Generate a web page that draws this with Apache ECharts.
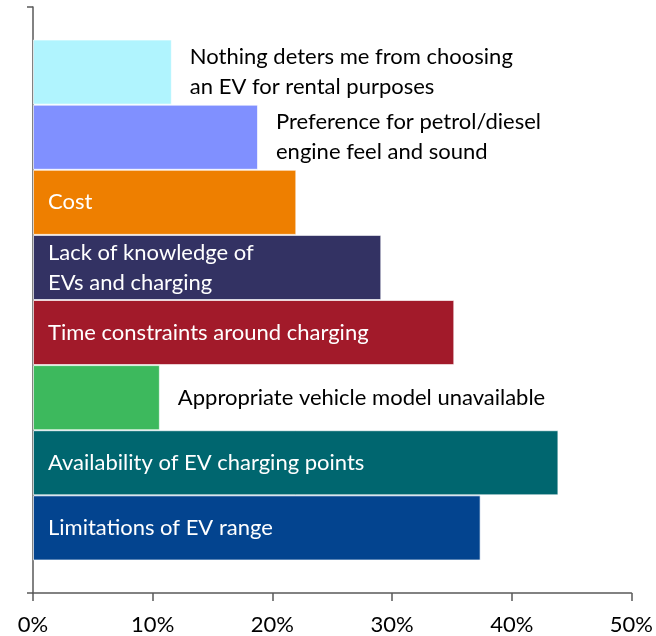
<!DOCTYPE html>
<html>
<head>
<meta charset="utf-8">
<script src="https://cdn.jsdelivr.net/npm/echarts@6/dist/echarts.min.js"></script>
<style>
  html, body { margin: 0; padding: 0; background: #fff; }
  #chart { width: 656px; height: 636px; }
</style>
</head>
<body>
<div id="chart"></div>
<script>
// Barriers to choosing an EV for rental, share of respondents (%), listed top to bottom
const reasons = [
  'Nothing deters me from choosing\nan EV for rental purposes',
  'Preference for petrol/diesel\nengine feel and sound',
  'Cost',
  'Lack of knowledge of\nEVs and charging',
  'Time constraints around charging',
  'Appropriate vehicle model unavailable',
  'Availability of EV charging points',
  'Limitations of EV range'
];
const shares = [11.6, 18.8, 22.0, 29.1, 35.2, 10.6, 43.9, 37.4];
const barColors = ['#B0F4FE', '#8090FF', '#EE7F00', '#333263', '#A21A2A', '#3DB95D', '#00666F', '#03448F'];
const xTicks = { min: 0, max: 50, step: 10 };

const FONT = 'Lato';

const chart = echarts.init(document.getElementById('chart'), null, { renderer: 'canvas' });

// One category band holding one bar per reason; short bars carry their label outside
const series = reasons.map((name, i) => {
  const outside = shares[i] < 20;
  return {
    name: name,
    type: 'bar',
    data: [shares[i]],
    barGap: '0%',
    barCategoryGap: '11.1%',
    itemStyle: {
      color: barColors[i],
      borderColor: 'rgba(255,255,255,0.65)',
      borderWidth: 1
    },
    label: {
      show: true,
      formatter: () => name,
      position: outside ? 'right' : 'insideLeft',
      distance: outside ? 18 : 15,
      color: outside ? '#000' : '#fff',
      fontFamily: FONT,
      fontSize: 22,
      lineHeight: 30,
      align: 'left'
    },
    silent: true,
    animation: false
  };
});

chart.setOption({
  animation: false,
  grid: { left: 33, right: 20, top: 7, bottom: 42, containLabel: false },
  xAxis: {
    type: 'value',
    min: xTicks.min,
    max: xTicks.max,
    interval: xTicks.step,
    splitLine: { show: false },
    axisLine: { show: true, lineStyle: { color: '#595959', width: 1.5 } },
    axisTick: { show: true, length: 8, lineStyle: { color: '#595959', width: 1.5 } },
    axisLabel: {
      formatter: '{value}%',
      color: '#000',
      fontFamily: FONT,
      fontSize: 22,
      margin: 21
    }
  },
  yAxis: {
    type: 'category',
    data: [''],
    boundaryGap: true,
    axisLine: { show: true, lineStyle: { color: '#595959', width: 1.5 } },
    axisTick: { show: true, length: 6, lineStyle: { color: '#595959', width: 1.5 } },
    axisLabel: { show: false }
  },
  series: series
});
</script>
</body>
</html>
